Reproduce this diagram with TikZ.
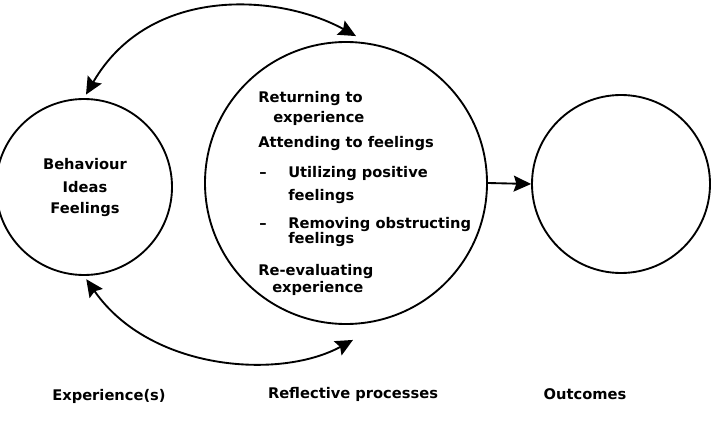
\documentclass[tikz,border=0pt]{standalone}
\usepackage{fontspec}
\setsansfont{DejaVu Sans}
\usetikzlibrary{arrows.meta}

\begin{document}
\begin{tikzpicture}[
    x=0.75pt, y=0.75pt,
    font=\sffamily\bfseries\fontsize{11}{13}\selectfont,
    >={Stealth[length=13pt, width=12pt, inset=2pt]},
    stage/.style={circle, draw, line width=1.4pt, inner sep=0pt},
    line/.style={anchor=base west, inner sep=0pt},
    caption/.style={anchor=base, inner sep=0pt}
]

% ============================================================
% Canvas (pixel grid, y downwards as negative)
% ============================================================
\useasboundingbox (0,0) rectangle (717,-424);

% ============================================================
% Circles
% ============================================================
\node[stage, minimum size=132pt]   (exp)  at (84,-187) {};
\node[stage, minimum size=211.5pt] (refl) at (346,-183) {};
\node[stage, minimum size=133.5pt] (out)  at (621,-184) {};

% ============================================================
% LEFT: experience contents
% ============================================================
\foreach \t/\y [count=\i] in {Behaviour/170, Ideas/192, Feelings/213}
    \node[caption] (item\i) at (85,-\y) {\t};

% ============================================================
% MIDDLE: reflective processes
% ============================================================
\foreach \x/\y/\t [count=\i] in {
    258/103/Returning to,
    273/123/experience,
    258/147/Attending to feelings,
    288/177/Utilizing positive,
    288/200/feelings,
    288/228/Removing obstructing,
    288/243/feelings,
    258/275/Re-evaluating,
    272/292/experience}
    \node[line] (proc\i) at (\x,-\y) {\t};

% Dashes
\node[line] (dash1) at (259,-177) {–};
\node[line] (dash2) at (259,-228) {–};

% ============================================================
% Connectors
% ============================================================
\coordinate (topentry) at ([shift={(10,5)}]refl.north);
\coordinate (reentry)  at ([shift={(7,-15)}]refl.south);

\draw[<->, line width=1.4pt, shorten <=3pt]
    (exp.north) .. controls +(66,114) and +(-76,42) .. (topentry);

\draw[<->, line width=1.4pt, shorten <=3pt]
    (exp.south) .. controls +(66,-95) and +(-73,-40) .. (reentry);

\draw[->, line width=1.4pt] (refl.east) -- (out.west);

% ============================================================
% Captions
% ============================================================
\node[caption] (capexp)  at (109,-400) {Experience(s)};
\node[caption] (caprefl) at (353,-398) {Reflective processes};
\node[caption] (capout)  at (585,-399) {Outcomes};

\end{tikzpicture}
\end{document}
